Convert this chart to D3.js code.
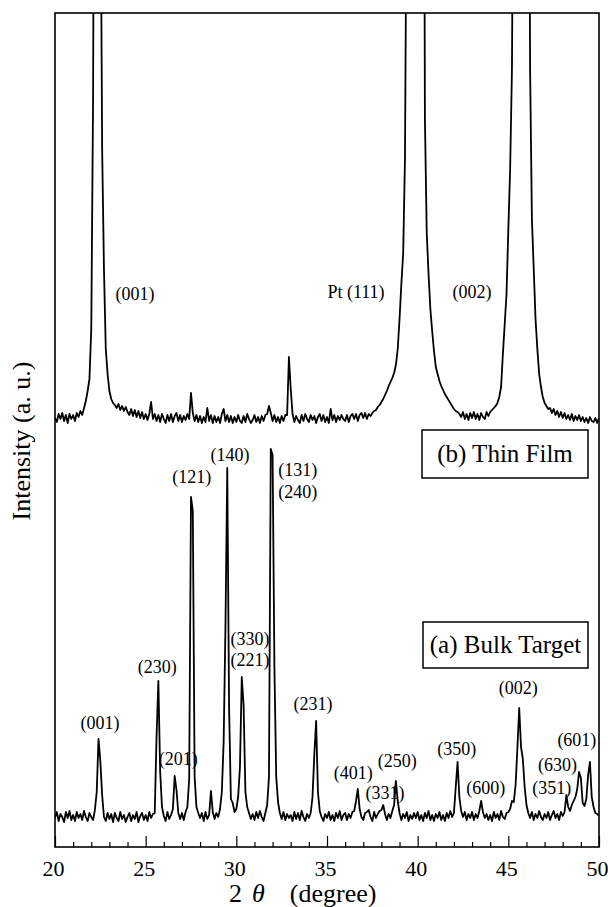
<!DOCTYPE html>
<html>
<head>
<meta charset="utf-8">
<script src="https://cdn.jsdelivr.net/npm/d3@7"></script>
<style>
  body { margin: 0; background: #fff; }
  svg { display: block; }
</style>
</head>
<body>
<div id="chart"></div>
<script>
    // 2theta grid of the scans (degree)
    var thetaStart = 20, thetaStep = 0.1;

    // (a) bulk target, one value per 0.1 degree from 20 to 50 (a. u.)
    var bulkIntensity = [
      29,35,26,33,30,25,35,29,36,27,
      32,26,35,29,33,27,36,30,26,34,
      30,27,37,55,108,86,52,30,26,34,
      28,33,25,34,29,26,35,28,32,25,
      30,34,26,32,28,35,25,31,34,27,
      32,26,35,29,33,34,110,166,75,40,
      31,26,35,28,32,38,71,57,34,28,
      34,27,35,40,68,350,336,70,40,34,
      29,34,26,35,28,32,56,35,28,34,
      30,38,55,105,220,379,140,48,44,35,
      38,50,80,170,142,55,40,34,28,33,
      27,35,29,36,30,26,34,42,70,398,
      392,180,70,45,34,28,35,27,33,29,
      32,26,35,28,34,27,36,30,26,33,
      29,34,50,92,126,55,36,30,26,33,
      29,35,27,32,26,34,29,36,27,32,
      34,27,33,29,35,36,46,58,38,30,
      27,34,35,37,30,26,35,29,33,36,
      37,42,33,27,33,29,36,42,66,46,
      34,27,33,29,35,26,32,28,34,29,
      35,27,32,26,34,29,36,27,32,26,
      33,29,35,27,32,26,34,29,36,30,
      34,60,85,50,36,30,35,27,33,29,
      35,27,33,29,36,46,35,29,33,27,
      32,26,35,29,33,27,36,30,28,34,
      35,38,46,45,62,99,139,100,88,60,
      42,34,29,35,27,33,29,36,30,27,
      33,29,35,27,32,36,29,33,27,35,
      31,35,52,40,36,42,46,50,58,75,
      69,44,41,48,72,85,50,40,34,33,
      31
    ];

    // (b) thin film, same grid (a. u.), drawn shifted up by filmOffset
    var filmIntensity = [
      31,27,35,30,36,28,34,26,35,30,
      34,28,36,32,38,34,41,48,58,70,
      120,350,900,1200,1200,620,300,180,100,75,
      58,50,46,44,41,45,39,43,38,42,
      37,34,40,33,39,32,38,31,37,30,
      35,29,35,47,30,35,28,34,27,35,
      30,26,34,28,35,27,33,36,28,34,
      27,33,29,35,30,56,36,28,34,27,
      33,26,32,27,41,28,34,26,33,27,
      32,26,35,40,28,34,27,33,26,32,
      27,34,28,26,33,27,35,30,26,29,
      34,27,32,26,33,28,34,35,43,36,
      28,34,27,32,26,33,28,34,34,92,
      60,35,27,33,29,26,34,28,35,30,
      27,34,29,33,26,32,35,28,34,27,
      32,26,40,29,34,27,33,29,34,30,
      28,34,27,33,35,30,35,28,34,36,
      31,36,30,35,33,36,38,39,42,44,
      47,50,54,58,63,67,71,76,84,100,
      130,165,195,290,600,1200,1200,1200,1200,1200,
      1200,1200,1200,1000,330,216,175,140,118,98,
      82,75,68,63,59,55,52,49,46,43,
      40,38,37,35,32,37,30,35,29,36,
      31,37,30,35,29,36,32,30,37,33,
      37,39,41,43,46,52,62,95,125,155,
      220,280,380,700,1200,1200,1200,1200,1200,1200,
      1200,900,380,230,180,130,100,75,62,52,
      46,43,40,41,36,40,34,38,32,37,
      31,36,30,34,29,35,28,33,29,34,
      28,32,27,31,26,32,28,27,31,26,
      31
    ];
    var filmOffset = 398;

    var majorTicks = [20, 25, 30, 35, 40, 45, 50];

    // peak labels, placed at (2theta, intensity)
    var bulkLabels = [
      {t: "(001)", x: 22.48, v: 124}, {t: "(230)", x: 25.64, v: 180},
      {t: "(201)", x: 26.80, v: 88},  {t: "(121)", x: 27.54, v: 370},
      {t: "(140)", x: 29.65, v: 392}, {t: "(131)", x: 33.39, v: 377},
      {t: "(240)", x: 33.39, v: 355}, {t: "(330)", x: 30.76, v: 208},
      {t: "(221)", x: 30.76, v: 187}, {t: "(231)", x: 34.23, v: 143},
      {t: "(401)", x: 36.45, v: 74},  {t: "(331)", x: 38.20, v: 54},
      {t: "(250)", x: 38.88, v: 86},  {t: "(350)", x: 42.16, v: 98},
      {t: "(600)", x: 43.76, v: 59},  {t: "(002)", x: 45.55, v: 159},
      {t: "(351)", x: 47.40, v: 59},  {t: "(630)", x: 47.71, v: 82},
      {t: "(601)", x: 48.78, v: 107}
    ];
    var filmLabels = [
      {t: "(001)", x: 24.41, v: 155}, {t: "Pt (111)", x: 36.60, v: 157},
      {t: "(002)", x: 43.00, v: 157}
    ];

    var W = 608, H = 907;
    var L = 55, R = 599, T = 13, B = 847;
    var serif = "'Liberation Serif', Tinos, 'Times New Roman', serif";

    var svg = d3.select("#chart").append("svg").attr("width", W).attr("height", H)
      .style("font-family", serif);

    var x = d3.scaleLinear().domain([20, 50]).range([L, R]);
    var y = d3.scaleLinear().domain([0, 834]).range([B, T]);

    svg.append("clipPath").attr("id", "plot-clip")
      .append("rect").attr("x", L).attr("y", T).attr("width", R - L).attr("height", B - T);

    var line = d3.line()
      .x(function(d) { return x(d[0]); })
      .y(function(d) { return y(d[1]); });

    var bulkPts = bulkIntensity.map(function(v, i) { return [thetaStart + i * thetaStep, v]; });
    var filmPts = filmIntensity.map(function(v, i) { return [thetaStart + i * thetaStep, v + filmOffset]; });

    var plot = svg.append("g").attr("clip-path", "url(#plot-clip)");
    [bulkPts, filmPts].forEach(function(pts) {
      plot.append("path").datum(pts)
        .attr("d", line)
        .attr("fill", "none").attr("stroke", "#000")
        .attr("stroke-width", 1.8).attr("stroke-linejoin", "round");
    });

    // ticks point inward
    var minorAxis = d3.axisBottom(x)
      .tickValues(d3.range(21, 50).filter(function(d) { return d % 5 !== 0; }))
      .tickSize(-5).tickFormat("");
    var gMinor = svg.append("g").attr("transform", "translate(0," + B + ")").call(minorAxis);
    gMinor.select(".domain").remove();

    var majorAxis = d3.axisBottom(x).tickValues(majorTicks).tickSize(-11).tickPadding(13)
      .tickFormat(d3.format("d"));
    var gMajor = svg.append("g").attr("transform", "translate(0," + B + ")").call(majorAxis);
    gMajor.select(".domain").remove();
    gMajor.attr("font-family", null).attr("font-size", null);
    gMajor.selectAll("text").attr("x", -2).style("font-size", "22px").attr("fill", "#000");
    svg.selectAll(".tick line").attr("stroke", "#000").attr("stroke-width", 1.2);

    // frame
    svg.append("rect").attr("x", L).attr("y", T).attr("width", R - L).attr("height", B - T)
      .attr("fill", "none").attr("stroke", "#000").attr("stroke-width", 1.6);

    // axis titles
    var xt = svg.append("text").attr("x", 229).attr("y", 902).style("font-size", "26px");
    xt.append("tspan").text("2");
    xt.append("tspan").attr("dx", 10).style("font-style", "italic").text("θ");
    xt.append("tspan").attr("dx", 25).text("(degree)");

    svg.append("text")
      .attr("transform", "translate(30," + 441 + ") rotate(-90)")
      .attr("text-anchor", "middle")
      .style("font-size", "26px")
      .text("Intensity (a. u.)");

    // peak labels
    svg.selectAll(".bulk-label").data(bulkLabels).enter().append("text")
      .attr("class", "bulk-label")
      .attr("x", function(d) { return x(d.x); })
      .attr("y", function(d) { return y(d.v); })
      .attr("dy", "0.32em").attr("text-anchor", "middle")
      .style("font-size", "18px")
      .text(function(d) { return d.t; });

    svg.selectAll(".film-label").data(filmLabels).enter().append("text")
      .attr("class", "film-label")
      .attr("x", function(d) { return x(d.x); })
      .attr("y", function(d) { return y(d.v + filmOffset); })
      .attr("dy", "0.32em").attr("text-anchor", "middle")
      .style("font-size", "18px")
      .text(function(d) { return d.t; });

    // sample boxes
    var boxes = [
      {t: "(b) Thin Film", x0: 422, y0: 430, x1: 588, y1: 478},
      {t: "(a) Bulk Target", x0: 423, y0: 622, x1: 588, y1: 668}
    ];
    boxes.forEach(function(b) {
      svg.append("rect").attr("x", b.x0).attr("y", b.y0)
        .attr("width", b.x1 - b.x0).attr("height", b.y1 - b.y0)
        .attr("fill", "#fff").attr("stroke", "#000").attr("stroke-width", 1.5);
      svg.append("text").attr("x", (b.x0 + b.x1) / 2).attr("y", (b.y0 + b.y1) / 2)
        .attr("dy", "0.33em").attr("text-anchor", "middle")
        .style("font-size", "25px").text(b.t);
    });
</script>
</body>
</html>
